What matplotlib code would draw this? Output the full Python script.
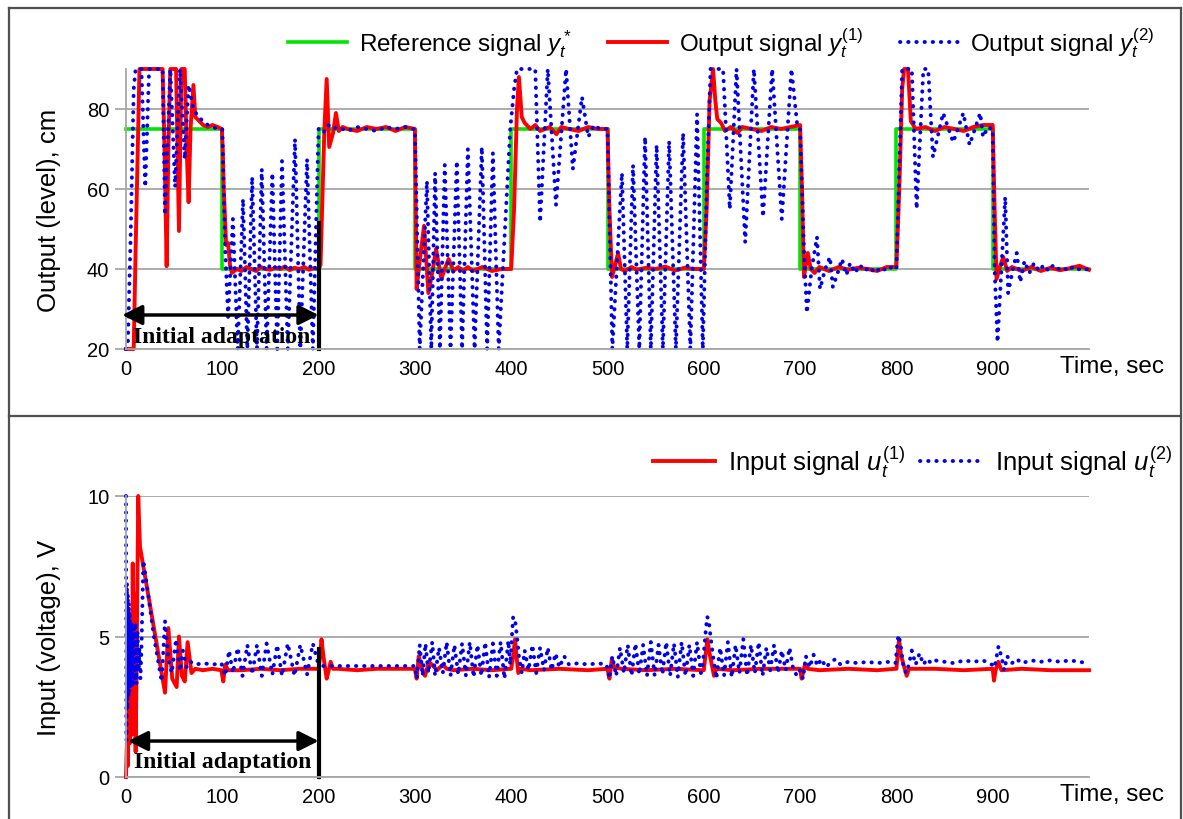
import numpy as np
import matplotlib
matplotlib.use('Agg')
import matplotlib.pyplot as plt
from matplotlib.lines import Line2D

plt.rcParams['font.family'] = ['Liberation Sans', 'DejaVu Sans']
plt.rcParams['mathtext.fontset'] = 'custom'
plt.rcParams['mathtext.rm'] = 'Liberation Sans'
plt.rcParams['mathtext.it'] = 'Liberation Sans:italic'

# reference signal (step levels)
ref_t = [0, 100, 200, 300, 400, 500, 600, 700, 800, 900, 1000]
ref_y = [75, 40, 75, 40, 75, 40, 75, 40, 75, 40, 40]

# output y(1) (red)
y1_t = ([0, 8, 10, 14, 38, 40, 42.2, 44, 46, 52, 55, 57.5, 61, 63, 65, 67, 70, 72, 76, 80, 85, 90, 95, 99.5]
        + [100.5, 101.5, 104, 106, 108, 110, 115, 120, 125, 130, 135, 140, 145, 150, 155, 160, 165, 170, 175, 180, 185, 190, 195, 199.5]
        + [200, 202, 206, 208.4, 211, 215, 218, 221, 225, 230, 240, 250, 260, 270, 280, 290, 299.5]
        + [300, 301.8, 305, 309.5, 314, 318, 322, 327.5, 331, 335, 340, 345, 350, 355, 360, 370, 380, 390, 399.5]
        + [400, 403, 406, 408, 411, 414, 420, 425, 430, 440, 447, 452, 460, 470, 480, 490, 499.5]
        + [500, 502, 504.7, 508, 511, 514, 518, 525, 530, 540, 550, 560, 570, 580, 590, 599.5]
        + [600, 603, 606, 609.6, 612, 614, 618, 622, 628, 635, 640, 650, 660, 670, 680, 690, 699.5]
        + [700, 702, 704, 708, 711, 715, 720, 730, 740, 750, 760, 770, 780, 790, 799.5]
        + [800, 803, 806, 808, 812, 815, 820, 830, 840, 850, 860, 870, 880, 890, 898.5]
        + [900, 902, 904, 908, 911, 915, 920, 930, 940, 950, 960, 970, 980, 990, 1000])
y1_v = ([20, 20, 45, 90, 90, 70, 40.7, 70, 90, 90, 49.5, 90, 90, 70, 56.7, 75, 86, 78, 77, 76, 75.5, 76, 75.5, 75]
        + [70, 60, 46, 46.5, 41, 39, 40, 39.5, 40.5, 40, 39.5, 40.5, 40, 39.8, 40.3, 40, 40.6, 39.7, 40.3, 40, 40.5, 39.8, 40.2, 40]
        + [40, 41, 75, 87.5, 70.5, 74, 79, 74.5, 75.5, 75, 74.5, 75.5, 75, 75.5, 74.5, 75.5, 75]
        + [75, 35, 42, 50.8, 34, 39, 45, 37.5, 40, 42.5, 39.5, 40.5, 39.5, 40.5, 39.5, 40.5, 39.5, 40, 40]
        + [40, 55, 80, 88, 78, 76.5, 75, 76, 74.5, 75.5, 73.7, 75.5, 75, 74.5, 75.5, 75, 75]
        + [75, 55, 38, 41, 44, 40, 39.5, 40.5, 39.8, 40.3, 40, 40.6, 39.6, 40.3, 40, 40]
        + [40, 55, 82, 90, 82, 77.5, 76.5, 74.5, 75.5, 74, 75.5, 75, 74.5, 75.5, 75, 75.5, 76]
        + [76, 60, 38, 44, 40, 39, 40.5, 39.5, 40.5, 39.8, 40.3, 40, 39.5, 40.5, 40.5]
        + [40.5, 60, 85, 90, 90, 77, 75, 75.5, 74.5, 75.5, 75, 74.5, 75.5, 76, 76]
        + [76, 55, 37.5, 41, 43, 39.5, 40.5, 39.5, 40.5, 39.5, 40.3, 39.7, 40.2, 40.8, 39.8])

# output y(2) (blue dotted)
y2_t = ([0, 2, 5, 8, 10, 16, 20, 24, 38, 40.5, 46, 51, 56, 61, 65, 70, 75, 80, 85, 90, 95, 99]
        + [100, 103, 106, 111, 116, 121.5, 126, 131, 136, 141, 146, 152, 157, 162, 168, 175.5, 181, 188, 194, 200]
        + [205, 210, 215, 220, 230, 240, 250, 260, 270, 280, 290, 298]
        + [300, 305, 312.5, 317, 321, 326, 331, 337, 343.5, 349, 355, 362, 369.5, 375, 381, 387, 399]
        + [403, 406, 425, 430, 438, 446.5, 457, 464, 473.5, 480, 486, 492, 499]
        + [500, 505, 515, 520.5, 526.5, 533, 539, 545, 551, 557.5, 564, 571, 578.5, 586, 593, 599]
        + [603, 607, 620, 627, 634, 643, 652, 661.5, 671, 681, 691, 697, 700]
        + [704, 707, 712, 717.5, 720.7, 726, 731, 734, 739, 743.5, 748, 752, 757, 762, 767, 772, 778, 784, 790, 795, 799]
        + [800, 803, 806, 816, 821, 828, 833, 838, 848.5, 859, 869.5, 876, 887, 890, 895, 899]
        + [900, 902, 905, 913, 916, 921, 925, 928.6, 933, 938, 943, 948, 953, 958, 963, 968, 973, 978, 983, 988, 993, 999])
y2_v = ([20, 22, 50, 85, 90, 90, 60.5, 90, 90, 53.5, 90, 60.5, 90, 67.5, 86, 80, 78, 77, 76, 75.5, 75, 75]
        + [75, 45, 28, 52.5, 20, 57.5, 20, 63, 20, 65, 20, 64, 20, 67, 20, 72.5, 20, 67.5, 20, 75]
        + [74, 76, 75, 75.5, 74.5, 75.5, 75, 74.5, 75.5, 75, 75.5, 75]
        + [75, 20, 62, 20, 64, 20, 66, 20, 67, 20, 70, 20, 70.5, 20, 69, 20, 75]
        + [85, 90, 90, 51.7, 90, 56, 90, 65, 83, 73, 76, 75, 75]
        + [75, 20, 64, 20, 66, 20, 73, 20, 71, 20, 72, 20, 74, 20, 78.7, 20]
        + [60, 90, 90, 55, 90, 46.7, 90, 53, 90, 52.5, 90, 76, 75]
        + [45, 29, 40, 48, 35, 40, 43, 35.5, 39, 42.5, 38.5, 41.5, 39, 41, 39.5, 40.5, 39, 40.5, 39.5, 40.5, 40]
        + [40, 65, 90, 90, 55, 90, 90, 68, 79, 71.7, 79, 71, 79, 73, 75.5, 75]
        + [75, 40, 21.7, 58, 34, 40, 44, 36.7, 42, 39, 41.5, 39.5, 41, 39.5, 41, 40, 40.5, 39.5, 40.5, 39.8, 40.3, 39.8])

# input u(1) (red)
u1_t = ([0, 1, 2, 3, 4, 5, 6, 7, 8, 9, 10, 11, 12.7, 14.5, 27, 40.5, 44, 48, 52.6, 55, 58, 61, 64, 68, 72, 80, 90, 99]
        + [101, 103, 106, 120, 140, 160, 180, 199]
        + [200, 201.5, 203, 205, 208.4, 210.5, 212.5, 215, 220, 240, 260, 280, 299]
        + [300, 301.8, 304, 307, 310.5, 314.6, 319, 323, 329, 333, 340, 360, 380, 399]
        + [400, 402, 404, 405.5, 407.4, 410, 420, 450, 480, 499]
        + [500, 502, 504.5, 507, 515, 540, 570, 599]
        + [600, 602, 603.7, 606, 610.6, 613, 630, 660, 699]
        + [700, 701.6, 705, 708, 720, 750, 780, 799]
        + [800, 801.5, 802.7, 805, 810.7, 813, 840, 870, 899]
        + [900, 901.3, 903, 905.8, 909, 930, 960, 1000])
u1_v = ([0, 1.3, 0.4, 3.5, 1.2, 5.5, 1.5, 7.6, 2.5, 6.5, 0.9, 4, 10, 8.2, 5.7, 3.0, 5.3, 3.5, 3.2, 5.0, 3.6, 3.4, 4.8, 3.7, 3.85, 3.8, 3.85, 3.8]
        + [3.4, 4.0, 3.8, 3.8, 3.85, 3.8, 3.85, 3.85]
        + [3.85, 4.3, 4.9, 4.3, 3.5, 3.8, 4.1, 3.85, 3.85, 3.8, 3.85, 3.85, 3.85]
        + [3.85, 3.5, 4.3, 3.9, 3.6, 4.1, 3.95, 3.8, 4.0, 3.85, 3.8, 3.85, 3.8, 3.85]
        + [3.85, 4.3, 4.9, 4.3, 3.7, 3.85, 3.8, 3.85, 3.8, 3.85]
        + [3.85, 3.5, 4.2, 3.9, 3.85, 3.8, 3.85, 3.8]
        + [3.8, 4.4, 4.9, 4.4, 3.6, 3.85, 3.8, 3.85, 3.85]
        + [3.85, 3.5, 4.0, 3.85, 3.8, 3.85, 3.8, 3.85]
        + [3.85, 4.4, 4.9, 4.3, 3.6, 3.85, 3.85, 3.8, 3.85]
        + [3.85, 3.43, 3.8, 4.1, 3.8, 3.85, 3.8, 3.8])

# input u(2) (blue dotted)
u2_t = ([0, 0.5, 1, 1.5, 2, 2.5, 3, 3.5, 4, 5, 6, 7, 8, 9, 10, 11, 12, 13, 14, 15, 16, 18, 21, 25, 29, 33, 37, 40.5, 44, 47.5, 52, 56, 59, 63, 67, 72, 80, 90, 99]
        + [103, 107, 111, 116, 121, 126, 131, 136, 141, 146, 152, 157, 162, 168, 175, 181, 188, 194, 199]
        + [205, 220, 240, 260, 280, 298]
        + [300, 302, 305, 308, 311, 314, 318, 321, 325, 329, 333, 337, 341, 345, 349, 353, 357, 361, 365, 369, 373, 377, 381, 385, 389, 393, 397, 399]
        + [402, 404, 406, 408, 411, 414, 418, 422, 426, 430, 434, 438, 442, 446, 450, 455, 460, 470, 480, 490, 499]
        + [502, 505, 509, 513, 517, 521, 525, 529, 533, 537, 541, 545, 549, 553, 557, 561, 565, 569, 573, 577, 581, 585, 589, 593, 597, 599]
        + [602, 603.5, 605, 607, 610, 613, 617, 621, 625, 629, 633, 637, 641, 645, 649, 653, 657, 661, 665, 669, 673, 677, 681, 685, 689, 693, 697]
        + [700, 703, 706, 710, 714, 718, 722, 727, 732, 737, 742, 750, 760, 770, 780, 790, 799]
        + [802, 804, 807, 810, 813, 816, 820, 824, 828, 832, 836, 840, 850, 860, 870, 880, 890, 899]
        + [902, 906, 909, 912, 915, 920, 925, 930, 940, 950, 960, 970, 980, 990, 999])
u2_v = ([10, 1.3, 6.9, 2.4, 6.5, 2.8, 6.2, 3.0, 5.8, 3.2, 5.5, 3.2, 5.3, 3.4, 5.5, 3.3, 5.2, 3.8, 4.6, 3.5, 4.5, 7.7, 7.0, 6.0, 5.0, 4.2, 3.4, 5.55, 4.2, 3.7, 4.9, 3.77, 4.5, 3.9, 4.1, 4.0, 4.05, 4.0, 4.05]
        + [3.6, 4.5, 3.7, 4.6, 3.6, 4.7, 3.65, 4.7, 3.6, 4.75, 3.65, 4.7, 3.6, 4.75, 3.6, 4.7, 3.65, 4.75, 4.1]
        + [3.95, 3.95, 3.95, 3.95, 3.95, 3.95]
        + [3.95, 3.5, 4.7, 3.6, 4.75, 3.7, 4.8, 3.6, 4.6, 3.7, 4.8, 3.6, 4.7, 3.65, 4.75, 3.6, 4.8, 3.55, 4.7, 3.6, 4.8, 3.55, 4.75, 3.6, 4.8, 3.5, 4.85, 4.0]
        + [5.7, 5.6, 5.0, 4.3, 3.7, 4.5, 3.8, 4.7, 3.7, 4.6, 3.8, 4.6, 3.8, 4.4, 3.9, 4.3, 4.0, 4.05, 4.0, 4.05, 4.0]
        + [3.5, 4.3, 3.6, 4.6, 3.7, 4.7, 3.6, 4.75, 3.65, 4.7, 3.6, 4.8, 3.6, 4.7, 3.65, 4.8, 3.6, 4.75, 3.55, 4.8, 3.6, 4.7, 3.6, 4.8, 3.7, 4.0]
        + [5.2, 5.7, 5.6, 5.0, 4.2, 3.5, 4.6, 3.6, 4.8, 3.55, 4.7, 3.7, 4.9, 3.6, 4.7, 3.7, 4.8, 3.6, 4.6, 3.8, 4.7, 3.7, 4.5, 3.8, 4.6, 3.8, 3.6]
        + [3.8, 3.5, 4.3, 3.9, 4.35, 3.95, 4.2, 3.9, 4.1, 4.2, 4.0, 4.1, 4.05, 4.1, 4.05, 4.1, 4.05]
        + [5.05, 4.8, 4.0, 3.7, 4.0, 4.5, 4.0, 4.4, 4.0, 4.2, 4.05, 4.15, 4.1, 4.05, 4.15, 4.1, 4.15, 4.0]
        + [3.9, 4.65, 4.3, 3.8, 4.3, 4.05, 4.2, 4.05, 4.15, 4.1, 4.15, 4.1, 4.15, 4.1, 4.05])

adapt_start, adapt_end = 0, 200
x_ticks = [0, 100, 200, 300, 400, 500, 600, 700, 800, 900]
top_yticks = [20, 40, 60, 80]
bot_yticks = [0, 5, 10]

W, H = 1183, 820
fig = plt.figure(figsize=(W / 100, H / 100), dpi=100)

# frame around both panels
frame_col = '#505050'
fig.add_artist(Line2D([9 / W, 9 / W], [0, 1 - 9 / H], color=frame_col, lw=1.6))
fig.add_artist(Line2D([9 / W, 1181 / W], [1 - 9 / H, 1 - 9 / H], color=frame_col, lw=1.6))
fig.add_artist(Line2D([1181 / W, 1181 / W], [0, 1 - 9 / H], color=frame_col, lw=1.6))
fig.add_artist(Line2D([9 / W, 1181 / W], [1 - 417 / H, 1 - 417 / H], color=frame_col, lw=1.6))

ax1 = fig.add_axes([126 / W, 1 - 350 / H, 963 / W, 280 / H])
ax2 = fig.add_axes([126 / W, 1 - 778 / H, 963 / W, 281 / H])

grid_col = '#a6a6a6'
blue_ls = (0, (0.1, 2.0))


def style(ax, yticks, ylim, ylabel):
    ax.set_xlim(0, 1000)
    ax.set_ylim(*ylim)
    ax.set_xticks(x_ticks)
    ax.set_yticks(yticks)
    for s in ['top', 'right']:
        ax.spines[s].set_visible(False)
    for s in ['left', 'bottom']:
        ax.spines[s].set_color(grid_col)
        ax.spines[s].set_linewidth(1.3)
    ax.grid(axis='y', color=grid_col, lw=1.3)
    ax.set_axisbelow(True)
    ax.tick_params(axis='x', length=0, pad=7, labelsize=14.5)
    ax.tick_params(axis='y', length=8, width=1.3, color=grid_col, pad=4, labelsize=14.5)
    ax.set_ylabel(ylabel, fontsize=18.5)
    ax.yaxis.set_label_coords(-0.068, 0.5)
    ax.set_xlabel('Time, sec', fontsize=17.5, ha='left', va='top')
    ax.xaxis.set_label_coords(0.97, -0.02)


arrow_props = dict(arrowstyle='<|-|>', color='black', lw=2.5, mutation_scale=30, shrinkA=0, shrinkB=0)
leg_kw = dict(frameon=False, handlelength=2.4, handletextpad=0.5,
              borderaxespad=0, borderpad=0, bbox_transform=fig.transFigure)

# top panel
style(ax1, top_yticks, (20, 90), 'Output (level), cm')
ax1.step(ref_t, ref_y, where='post', color='#00e600', lw=2.6, label=r'Reference signal $y_t^*$', clip_on=False)
ax1.plot(y1_t, y1_v, color='#ff0000', lw=2.8, label=r'Output signal $y_t^{(1)}$', clip_on=False)
ax1.plot(y2_t, y2_v, color='#0000ee', lw=2.8, ls=blue_ls, dash_capstyle='round',
         label=r'Output signal $y_t^{(2)}$', clip_on=False)
ax1.annotate('', xy=(adapt_start - 4, 28.5), xytext=(adapt_end, 28.5), annotation_clip=False,
             arrowprops=arrow_props)
ax1.plot([adapt_end, adapt_end], [20, 51.5], color='black', lw=3, clip_on=False)
ax1.text(99, 23.2, 'Initial adaptation', family='Liberation Serif', weight='bold', fontsize=17,
         ha='center', va='center')
ax1.legend(loc='center right', bbox_to_anchor=(1155 / W, 1 - 43 / H), ncol=3, columnspacing=1.5,
           fontsize=17.5, **leg_kw)

# bottom panel
style(ax2, bot_yticks, (0, 10), 'Input (voltage), V')
ax2.plot(u1_t, u1_v, color='#ff0000', lw=2.8, label=r'Input signal $u_t^{(1)}$', clip_on=False)
ax2.plot(u2_t, u2_v, color='#0000ee', lw=2.8, ls=blue_ls, dash_capstyle='round',
         label=r'Input signal $u_t^{(2)}$', clip_on=False)
ax2.annotate('', xy=(adapt_start + 2, 1.28), xytext=(adapt_end, 1.28), annotation_clip=False,
             arrowprops=arrow_props)
ax2.plot([adapt_end, adapt_end], [0, 4.55], color='black', lw=3, clip_on=False)
ax2.text(100, 0.55, 'Initial adaptation', family='Liberation Serif', weight='bold', fontsize=17,
         ha='center', va='center')
ax2.legend(loc='center right', bbox_to_anchor=(1172 / W, 1 - 462 / H), ncol=2, columnspacing=0.6,
           fontsize=18.5, **leg_kw)

fig.savefig('out.png', dpi=100)
